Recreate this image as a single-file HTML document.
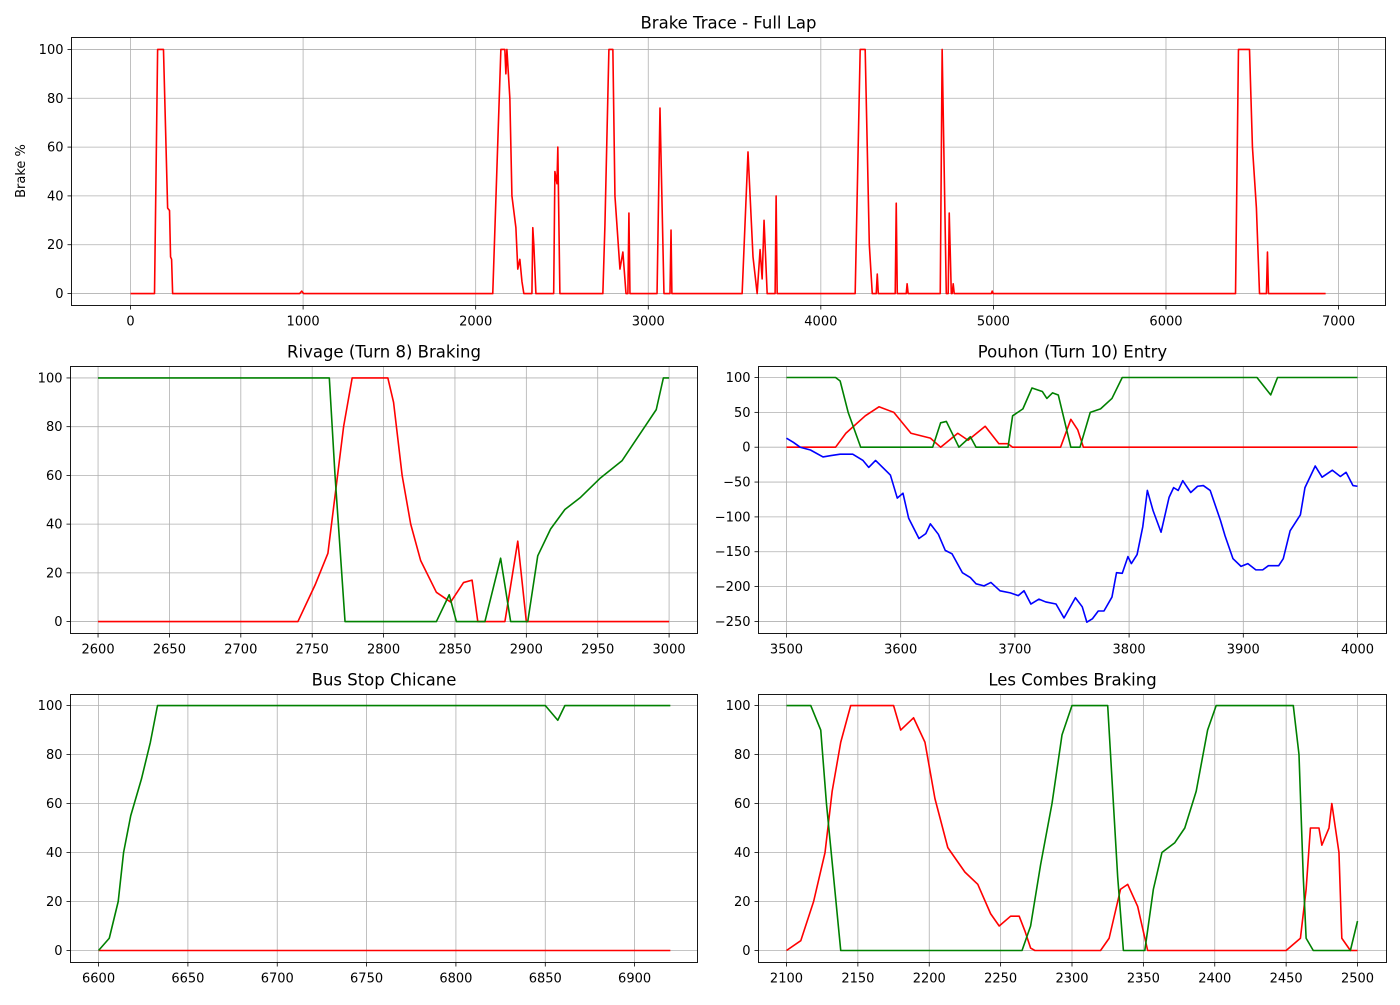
<!DOCTYPE html>
<html><head><meta charset="utf-8">
<style>
html,body{margin:0;padding:0;background:#fff;}
svg text{font-family:"DejaVu Sans","Liberation Sans",sans-serif;fill:#000;}
</style></head>
<body>
<svg id="fig" width="1400" height="1000" viewBox="0 0 1400 1000" xmlns="http://www.w3.org/2000/svg">
<rect width="1400" height="1000" fill="#fff"/>
</svg>
<script>
// ---- Full lap ----
const lapDist = [0,139,157,191,215,226,232,238,244,255, 980,992,1003,
 2099,2146,2169,2175,2181,2198,2210,2233,2244,2256,2268,2279,
 2326,2331,2337,2349, 2452,2459,2471,2476,2488,
 2737,2749,2772,2795,2807,2836,2853,2871,2882,2888,2894,
 3051,3068,3091,3126,3132,3137,3143,
 3544,3578,3607,3631,3648,3660,3671,3689,3735,3741,3747,
 4199,4228,4257,4281,4298,4321,4327,4333,4431,4437,4443,4495,4500,4506,
 4692,4703,4727,4738,4744,4756,4761,4767,4773, 4988,4993,4999,
 6403,6420,6484,6501,6524,6542,6582,6588,6594,6925];
const lapBrake = [0,0,100,100,35,34,15,14,0,0, 0,1,0,
 0,100,100,90,100,80,40,27,10,14,5,0,
 0,27,20,0, 0,50,45,60,0,
 0,28,100,100,40,10,17,0,0,33,0,
 0,76,0,0,26,0,0,
 0,58,15,0,18,6,30,0,0,40,0,
 0,100,100,20,0,0,8,0,0,37,0,0,4,0,
 0,100,0,0,33,0,0,4,0, 0,1,0,
 0,100,100,60,35,0,0,17,0,0];
// ---- Rivage ----
const rivRedDist = [2600,2740,2752,2761,2772,2778,2803,2807,2813,2819,2826,2837,2847,2856,2862,2866,2885,2894,2900,3000];
const rivRed = [0,0,15,28,80,100,100,90,60,40,25,12,8,16,17,0,0,33,0,0];
const rivGreenDist = [2600,2762,2766,2773,2837,2846,2851,2871,2882,2889,2901,2908,2917,2927,2938,2952,2967,2983,2991,2996,3000];
const rivGreen = [100,100,60,0,0,11,0,0,26,0,0,27,38,46,51,59,66,80,87,100,100];
// ---- Pouhon ----
const pouRedDist = [3500,3543,3552,3569,3581,3594,3609,3626,3635,3650,3659,3674,3686,3694,3698,3740,3749,3755,3760,4000];
const pouRed = [0,0,20,45,58,50,20,13,0,20,10,30,5,5,0,0,40,25,0,0];
const pouGreenDist = [3500,3543,3547,3554,3565,3628,3635,3640,3651,3661,3666,3694,3698,3707,3715,3724,3728,3733,3738,3749,3757,3766,3775,3785,3794,3912,3924,3930,4000];
const pouGreen = [100,100,95,50,0,0,35,37,0,15,0,0,45,55,85,80,70,78,75,0,0,50,55,70,100,100,75,100,100];
const pouBlueDist = [3500,3506,3512,3521,3532,3539,3547,3558,3567,3572,3578,3591,3597,3602,3607,3616,3622,3626,3633,3639,3645,3654,3661,3666,3673,3679,3687,3696,3703,3708,3714,3721,3727,3736,3743,3753,3759,3763,3768,3773,3778,3785,3789,3794,3799,3802,3807,3812,3816,3821,3828,3835,3839,3843,3847,3854,3860,3865,3871,3880,3884,3891,3898,3904,3911,3917,3922,3931,3935,3941,3950,3954,3963,3969,3978,3985,3990,3996,4000];
const pouBlue = [13,7,0,-4,-14,-12,-10,-10,-19,-29,-19,-40,-73,-66,-102,-131,-124,-110,-125,-148,-153,-180,-187,-196,-199,-194,-206,-209,-213,-206,-225,-218,-222,-225,-245,-216,-229,-251,-246,-235,-235,-215,-180,-181,-157,-167,-154,-114,-62,-91,-122,-72,-58,-62,-48,-65,-56,-55,-62,-105,-127,-160,-171,-167,-176,-176,-170,-170,-160,-120,-97,-58,-27,-43,-33,-42,-36,-55,-56];
// ---- Bus stop ----
const busRedDist = [6600,6920];
const busRed = [0,0];
const busGreenDist = [6600,6606,6611,6614,6618,6624,6629,6633,6850,6857,6861,6920];
const busGreen = [0,5,20,40,55,70,85,100,100,94,100,100];
// ---- Les Combes ----
const lcRedDist = [2100,2110,2119,2127,2132,2138,2145,2175,2180,2189,2197,2204,2213,2225,2234,2243,2249,2257,2263,2267,2271,2274,2320,2326,2334,2339,2346,2353,2450,2460,2464,2467,2473,2475,2480,2482,2487,2489,2495,2500];
const lcRed = [0,4,20,40,65,85,100,100,90,95,85,62,42,32,27,15,10,14,14,8,1,0,0,5,25,27,18,0,0,5,25,50,50,43,50,60,40,5,0,0];
const lcGreenDist = [2100,2117,2124,2128,2133,2138,2265,2271,2278,2286,2293,2300,2325,2332,2336,2351,2357,2363,2372,2379,2387,2395,2401,2455,2459,2462,2464,2469,2495,2500];
const lcGreen = [100,100,90,60,30,0,0,10,35,60,88,100,100,30,0,0,25,40,44,50,65,90,100,100,80,30,5,0,0,12];

const lapXTicks = [0,1000,2000,3000,4000,5000,6000,7000];
const pctTicks = [0,20,40,60,80,100];
const rivXTicks = [2600,2650,2700,2750,2800,2850,2900,2950,3000];
const pouXTicks = [3500,3600,3700,3800,3900,4000];
const pouYTicks = [-250,-200,-150,-100,-50,0,50,100];
const busXTicks = [6600,6650,6700,6750,6800,6850,6900];
const lcXTicks = [2100,2150,2200,2250,2300,2350,2400,2450,2500];

const NS='http://www.w3.org/2000/svg';
const fig=document.getElementById('fig');
function mk(tag,attrs,parent){const e=document.createElementNS(NS,tag);for(const k in attrs)e.setAttribute(k,attrs[k]);(parent||fig).appendChild(e);return e;}

function panel(p){
  const g=mk('g',{});
  
  
  const sx=v=>p.x0+(v-p.xmin)/(p.xmax-p.xmin)*(p.x1-p.x0);
  const sy=v=>p.y1-(v-p.ymin)/(p.ymax-p.ymin)*(p.y1-p.y0);
  p.xticks.forEach(t=>{
    const x=sx(t);
    const gl=mk('line',{x1:x,x2:x,y1:p.y0,y2:p.y1,stroke:'#b0b0b0','stroke-width':0.8},g);
    
    
    mk('line',{x1:x,x2:x,y1:p.y1,y2:p.y1+4,stroke:'#000','stroke-width':0.8},g);
    const tx=mk('text',{x:x,y:p.y1+20,'text-anchor':'middle','font-size':13},g);
    tx.textContent=String(t).replace('-','\u2212');
    
    
  });
  p.yticks.forEach(t=>{
    const y=sy(t);
    const gl=mk('line',{x1:p.x0,x2:p.x1,y1:y,y2:y,stroke:'#b0b0b0','stroke-width':0.8},g);
    
    
    mk('line',{x1:p.x0-4,x2:p.x0,y1:y,y2:y,stroke:'#000','stroke-width':0.8},g);
    const tx=mk('text',{x:p.x0-8,y:y+4.5,'text-anchor':'end','font-size':13},g);
    tx.textContent=String(t).replace('-','\u2212');
    
    
  });
  const clipId='c'+p.name;
  const cp=mk('clipPath',{id:clipId},g);
  mk('rect',{x:p.x0,y:p.y0,width:p.x1-p.x0,height:p.y1-p.y0},cp);
  p.series.forEach(s=>{
    const pts=s.d.map((d,i)=>sx(d).toFixed(2)+','+sy(s.v[i]).toFixed(2)).join(' ');
    const pl=mk('polyline',{points:pts,fill:'none',stroke:s.c,'stroke-width':1.6,'stroke-linejoin':'round','clip-path':'url(#'+clipId+')'},g);
    
    
  });
  const fr=mk('rect',{x:p.x0,y:p.y0,width:p.x1-p.x0,height:p.y1-p.y0,fill:'none',stroke:'#000','stroke-width':0.9},g);
  
  
  const ti=mk('text',{x:(p.x0+p.x1)/2,y:p.y0-9,'text-anchor':'middle','font-size':16.5},g);
  ti.textContent=p.title;
  
  
}

panel({name:'full-lap-panel',title:'Brake Trace - Full Lap',x0:71.5,x1:1385.5,y0:37.5,y1:305.5,xmin:-342,xmax:7272,ymin:-4.9,ymax:104.9,
  xticks:lapXTicks,yticks:pctTicks,series:[{n:'lap-brake-line',d:lapDist,v:lapBrake,c:'#ff0000'}]});
panel({name:'rivage-panel',title:'Rivage (Turn 8) Braking',x0:70.5,x1:697.5,y0:366.5,y1:633.5,xmin:2580.7,xmax:3019.9,ymin:-4.9,ymax:104.7,
  xticks:rivXTicks,yticks:pctTicks,series:[{n:'rivage-brake-line',d:rivRedDist,v:rivRed,c:'#ff0000'},{n:'rivage-throttle-line',d:rivGreenDist,v:rivGreen,c:'#008000'}]});
panel({name:'pouhon-panel',title:'Pouhon (Turn 10) Entry',x0:758.5,x1:1386.5,y0:366.5,y1:633.5,xmin:3475.5,xmax:4025.4,ymin:-267.3,ymax:115.8,
  xticks:pouXTicks,yticks:pouYTicks,series:[{n:'pouhon-brake-line',d:pouRedDist,v:pouRed,c:'#ff0000'},{n:'pouhon-throttle-line',d:pouGreenDist,v:pouGreen,c:'#008000'},{n:'pouhon-steering-line',d:pouBlueDist,v:pouBlue,c:'#0000ff'}]});
panel({name:'bus-stop-panel',title:'Bus Stop Chicane',x0:70.5,x1:697.5,y0:694.5,y1:962.5,xmin:6584.3,xmax:6935.2,ymin:-4.9,ymax:104.5,
  xticks:busXTicks,yticks:pctTicks,series:[{n:'bus-stop-brake-line',d:busRedDist,v:busRed,c:'#ff0000'},{n:'bus-stop-throttle-line',d:busGreenDist,v:busGreen,c:'#008000'}]});
panel({name:'les-combes-panel',title:'Les Combes Braking',x0:758.5,x1:1386.5,y0:694.5,y1:962.5,xmin:2080.4,xmax:2520.3,ymin:-4.9,ymax:104.5,
  xticks:lcXTicks,yticks:pctTicks,series:[{n:'les-combes-brake-line',d:lcRedDist,v:lcRed,c:'#ff0000'},{n:'les-combes-throttle-line',d:lcGreenDist,v:lcGreen,c:'#008000'}]});

const yl=mk('text',{x:25,y:171,'text-anchor':'middle','font-size':13,transform:'rotate(-90 25 171)'});
yl.textContent='Brake %';


</script>
</body></html>
